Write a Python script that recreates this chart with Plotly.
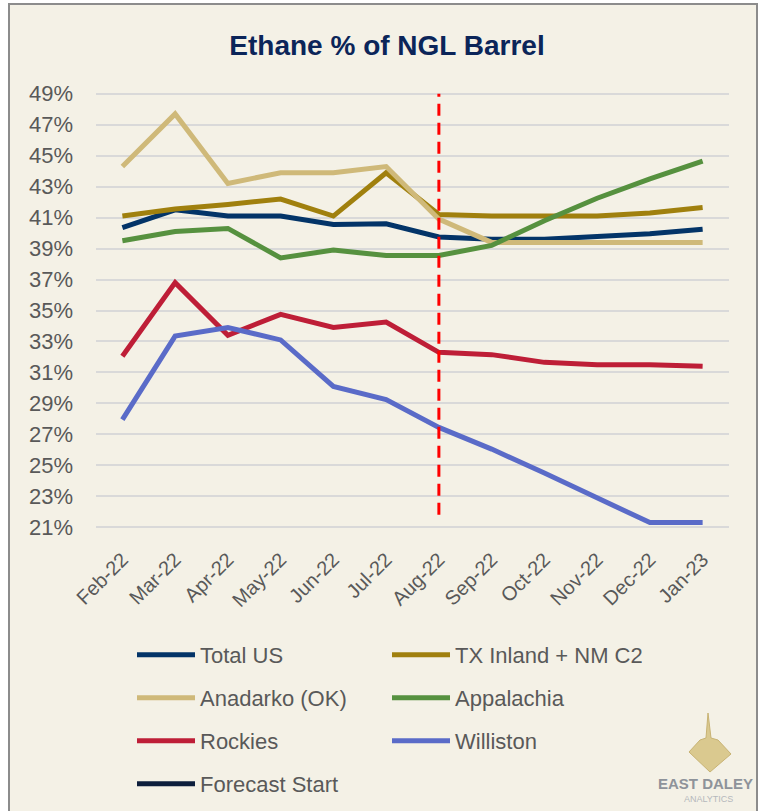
import plotly.graph_objects as go

# data (percent of NGL barrel)
months = ["Feb-22", "Mar-22", "Apr-22", "May-22", "Jun-22", "Jul-22",
          "Aug-22", "Sep-22", "Oct-22", "Nov-22", "Dec-22", "Jan-23"]
total_us = [40.35, 41.5, 41.1, 41.1, 40.55, 40.6, 39.75, 39.6, 39.6, 39.75, 39.95, 40.25]
tx_inland = [41.1, 41.55, 41.85, 42.2, 41.1, 43.9, 41.2, 41.1, 41.1, 41.1, 41.3, 41.65]
anadarko = [44.3, 47.7, 43.2, 43.9, 43.9, 44.3, 40.9, 39.4, 39.4, 39.4, 39.4, 39.4]
appalachia = [39.5, 40.1, 40.3, 38.4, 38.9, 38.55, 38.55, 39.2, 40.8, 42.25, 43.5, 44.65]
rockies = [32.05, 36.8, 33.4, 34.75, 33.9, 34.25, 32.3, 32.15, 31.65, 31.5, 31.5, 31.4]
williston = [27.95, 33.35, 33.9, 33.1, 30.1, 29.25, 27.45, 26.05, 24.5, 22.9, 21.3, 21.3]
forecast_x = ["Aug-22", "Aug-22"]
forecast_y = [21.8, 49]
y_ticks = list(range(21, 50, 2))
y_labels = [f"{v}%" for v in y_ticks]

W, H = 761, 811
L, R, T, B = 96, 32, 86, 276
pw, ph = W - L - R, H - T - B


def px(x):  # pixel x -> paper x
    return (x - L) / pw


def py(y):  # pixel y -> paper y
    return (H - B - y) / ph


series = [
    ("Total US", total_us, "#033468", "legend"),
    ("TX Inland + NM C2", tx_inland, "#A0800E", "legend"),
    ("Anadarko (OK)", anadarko, "#CFB979", "legend2"),
    ("Appalachia", appalachia, "#56913F", "legend2"),
    ("Rockies", rockies, "#BE1E37", "legend3"),
    ("Williston", williston, "#5A6BC8", "legend3"),
]

fig = go.Figure()
for name, vals, col, leg in series:
    fig.add_trace(go.Scatter(x=months, y=vals, name=name, mode="lines",
                             line=dict(color=col, width=5), legend=leg))

# forecast marker: red dashed in plot, dark navy swatch in legend (as in source)
fig.add_trace(go.Scatter(x=forecast_x, y=forecast_y, mode="lines", showlegend=False,
                         line=dict(color="#FF0000", width=3, dash="12px,7px")))
fig.add_trace(go.Scatter(x=[None], y=[None], mode="lines", name="Forecast Start",
                         line=dict(color="#0D1E3C", width=5), legend="legend4"))

font = "Liberation Sans, Arial, sans-serif"
leg_common = dict(orientation="h", xanchor="left", yanchor="middle", x=px(132),
                  entrywidth=182, entrywidthmode="pixels", itemwidth=58,
                  bgcolor="rgba(0,0,0,0)", font=dict(family=font, size=22, color="#595959"))

fig.update_layout(
    width=W, height=H,
    margin=dict(l=L, r=R, t=T, b=B, autoexpand=False),
    paper_bgcolor="white",
    plot_bgcolor="rgba(0,0,0,0)",
    title=dict(text="<b>Ethane % of NGL Barrel</b>", xref="container", x=387 / W,
               xanchor="center", y=1 - 45 / H, yanchor="middle",
               font=dict(family=font, size=28, color="#0B2559")),
    xaxis=dict(type="category", range=[-0.5, 11.5], showgrid=False, showline=False,
               tickangle=-45, ticks="", ticklabelstandoff=8,
               tickfont=dict(family=font, size=20, color="#595959")),
    yaxis=dict(range=[20.5, 49.5], tickvals=y_ticks, ticktext=y_labels, showline=False,
               zeroline=False, gridcolor="#D9D9D9", gridwidth=1.5, ticks="",
               ticklabelstandoff=22,
               tickfont=dict(family=font, size=22, color="#595959")),
    legend=dict(y=py(655), **leg_common),
    legend2=dict(y=py(698), **leg_common),
    legend3=dict(y=py(741), **leg_common),
    legend4=dict(y=py(784), **leg_common),
    shapes=[
        # chart frame with cream fill
        dict(type="rect", xref="paper", yref="paper", layer="below",
             x0=px(9), x1=px(757), y0=py(830), y1=py(4),
             fillcolor="#F4F1E6", line=dict(color="#8C8C8C", width=2)),
        # logo: gold crystal
        dict(type="path", xref="paper", yref="paper", layer="above",
             path="M {} {} L {} {} L {} {} L {} {} L {} {} L {} {} L {} {} L {} {} Z".format(
                 px(689), py(752), px(700), py(740), px(706), py(738), px(708), py(713),
                 px(711), py(738), px(718), py(740), px(731), py(754), px(710), py(772)),
             fillcolor="#DAC98F", line=dict(color="#C8B374", width=1)),
    ],
    annotations=[
        dict(text="<b>EAST DALEY</b>", xref="paper", yref="paper",
             x=px(705), y=py(783), xanchor="center", yanchor="middle", showarrow=False,
             font=dict(family=font, size=15, color="#8E939A")),
        dict(text="ANALYTICS", xref="paper", yref="paper",
             x=px(708), y=py(799), xanchor="center", yanchor="middle", showarrow=False,
             font=dict(family=font, size=9, color="#B5B8BC")),
    ],
)

# page body margin would otherwise push the chart 8px and add a scrollbar
fig.write_html("out.html", config={"displayModeBar": False},
               post_script="document.body.style.margin='0';")
